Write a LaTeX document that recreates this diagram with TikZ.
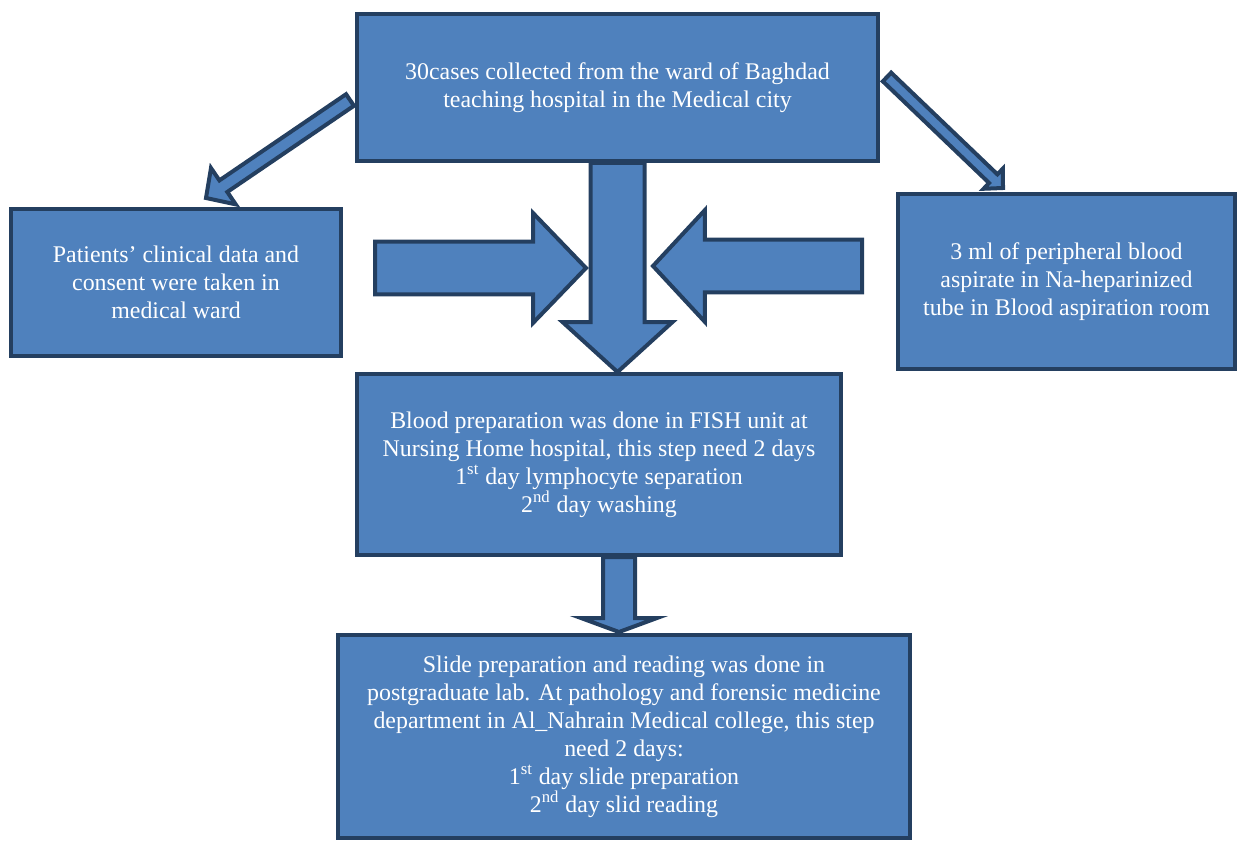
\documentclass[tikz,border=0pt]{standalone}
\usepackage{fontspec}
\setmainfont{Liberation Serif}
\usetikzlibrary{calc}
\definecolor{boxfill}{HTML}{4F81BD}
\definecolor{boxline}{HTML}{243F60}
\tikzset{
	flowbox/.style={draw=boxline, fill=boxfill, line width=0.08cm, text=white, align=center, inner sep=0pt, font=\fontsize{13.6}{15.9}\selectfont},
	blockarr/.style={draw=boxline, fill=boxfill, line width=0.08cm, line join=miter}
}
% block arrow: (tail)(tip)(half shaft:half head:head length)
\def\blockarrow(#1)(#2)(#3:#4:#5){
	\coordinate (hb) at ($(#2)!#5!(#1)$);
	\draw[blockarr] ($(#1)!#3!90:(#2)$) -- ($(hb)!#3!-90:(#1)$) -- ($(hb)!#4!-90:(#1)$) -- (#2) -- ($(hb)!#4!90:(#1)$) -- ($(hb)!#3!90:(#1)$) -- ($(#1)!#3!-90:(#2)$) -- cycle;
}

\begin{document}
\begin{tikzpicture}[x=0.02cm, y=-0.02cm]
	%%%%% START %%%%%
	\useasboundingbox (0, 0) rectangle (1241, 841);
	
	\node[flowbox, minimum width=10.42cm, minimum height=2.94cm] (top) at (617.5, 87.5) {30cases collected from the ward of Baghdad\\teaching hospital in the Medical city};
	\node[flowbox, minimum width=6.6cm, minimum height=2.94cm] (left) at (176, 282.5) {Patients’ clinical data and\\consent were taken in\\medical ward};
	\node[flowbox, minimum width=6.74cm, minimum height=3.5cm] (right) at (1066.5, 281.5) {3 ml of peripheral blood\\aspirate in Na-heparinized\\tube in Blood aspiration room};
	\node[flowbox, minimum width=9.68cm, minimum height=3.62cm] (mid) at (599, 464.5) {Blood preparation was done in FISH unit at\\Nursing Home hospital, this step need 2 days\\1\textsuperscript{st} day lymphocyte separation\\2\textsuperscript{nd} day washing};
	\node[flowbox, minimum width=11.44cm, minimum height=4.06cm] (bot) at (624, 736.5) {Slide preparation and reading was done in\\postgraduate lab. At pathology and forensic medicine\\department in Al\_Nahrain Medical college, this step\\need 2 days:\\1\textsuperscript{st} day slide preparation\\2\textsuperscript{nd} day slid reading};
	
	% arrow ends
	\coordinate (down-a) at (top.south);
	\coordinate (down-b) at (top.south |- mid.north);
	\coordinate (small-a) at (619, 557);
	\coordinate (small-b) at (619, 632);
	\coordinate (inl-a) at (375, 268);
	\coordinate (inl-b) at (586, 268);
	\coordinate (inr-a) at (862, 266);
	\coordinate (inr-b) at (653, 266);
	\coordinate (diagl-a) at (350, 100);
	\coordinate (diagl-b) at (206, 198);
	\coordinate (diagr-a) at (887, 77);
	\coordinate (diagr-b) at (1003, 188);
	
	\blockarrow(down-a)(down-b)(0.54cm:1.1cm:1.0cm)
	\blockarrow(inl-a)(inl-b)(0.53cm:1.1cm:1.06cm)
	\blockarrow(inr-a)(inr-b)(0.53cm:1.12cm:1.04cm)
	\blockarrow(small-a)(small-b)(0.32cm:0.76cm:0.28cm)
	\blockarrow(diagl-a)(diagl-b)(0.14cm:0.44cm:0.42cm)
	\blockarrow(diagr-a)(diagr-b)(0.12cm:0.28cm:0.27cm)
	
	%%%%% END %%%%%
\end{tikzpicture}
\end{document}
